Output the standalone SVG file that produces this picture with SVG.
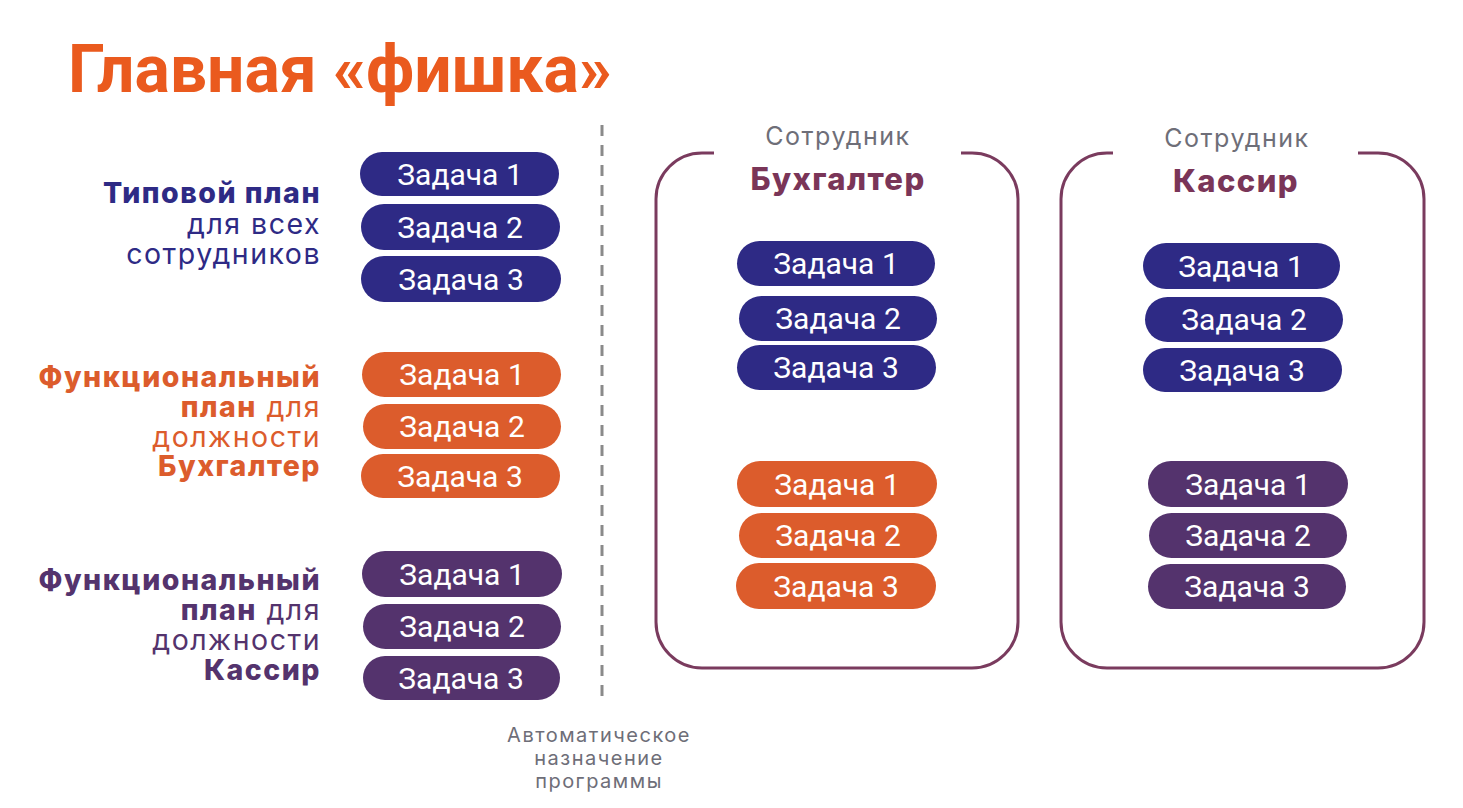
<svg xmlns="http://www.w3.org/2000/svg" width="1463" height="808" viewBox="0 0 1463 808">
<style>
.pill-t{font-family:Roboto,"Liberation Sans",sans-serif;font-size:30px;fill:#fff;text-anchor:middle;dominant-baseline:central}
.blue{fill:#2E2A85}.orange{fill:#DC5C2C}.purple{fill:#54336D}
.lbl{font-family:Inter,"Liberation Sans",sans-serif;font-size:28.5px;letter-spacing:1.5px;text-anchor:end}
.b{font-weight:800}
.box{fill:none;stroke:#7A3B5E;stroke-width:3}
.emp{font-family:Inter,"Liberation Sans",sans-serif;font-size:25px;letter-spacing:1.5px;fill:#6E6E78;text-anchor:middle}
.role{font-family:Inter,"Liberation Sans",sans-serif;font-size:31px;letter-spacing:1.4px;font-weight:800;fill:#7A3558;text-anchor:middle}
.note{font-family:Inter,"Liberation Sans",sans-serif;font-size:20px;letter-spacing:1.5px;fill:#6E6E78;text-anchor:middle}
</style>
<rect width="1463" height="808" fill="#fff"/>
<text id="title" x="68" y="92" font-family="Roboto,'Liberation Sans',sans-serif" font-size="66" font-weight="bold" fill="#EA5A1E">Главная «фишка»</text>

<g id="label-typical">
<text class="lbl b" x="321" y="203" fill="#2E2A85">Типовой план</text>
<text class="lbl" x="321" y="234" fill="#2E2A85">для всех</text>
<text class="lbl" x="321" y="264" fill="#2E2A85">сотрудников</text>
</g>
<g id="label-accountant">
<text class="lbl b" x="321" y="387" fill="#DC5C2C">Функциональный</text>
<text class="lbl" x="321" y="417" fill="#DC5C2C"><tspan font-weight="800">план</tspan> для</text>
<text class="lbl" x="321" y="447" fill="#DC5C2C">должности</text>
<text class="lbl b" x="321" y="476" fill="#DC5C2C">Бухгалтер</text>
</g>
<g id="label-cashier">
<text class="lbl b" x="321" y="590" fill="#54336D">Функциональный</text>
<text class="lbl" x="321" y="620" fill="#54336D"><tspan font-weight="800">план</tspan> для</text>
<text class="lbl" x="321" y="650" fill="#54336D">должности</text>
<text class="lbl b" x="321" y="680" fill="#54336D">Кассир</text>
</g>

<g id="left-typical">
<rect class="blue" x="360" y="152" width="199" height="44" rx="22"/><text class="pill-t" x="460" y="174">Задача 1</text>
<rect class="blue" x="361" y="204" width="199" height="46" rx="23"/><text class="pill-t" x="460" y="227">Задача 2</text>
<rect class="blue" x="361" y="256" width="200" height="46" rx="23"/><text class="pill-t" x="461" y="279">Задача 3</text>
</g>
<g id="left-accountant">
<rect class="orange" x="362" y="352" width="199" height="45" rx="22.5"/><text class="pill-t" x="462" y="374">Задача 1</text>
<rect class="orange" x="363" y="404" width="198" height="45" rx="22.5"/><text class="pill-t" x="462" y="426">Задача 2</text>
<rect class="orange" x="361" y="454" width="199" height="44" rx="22"/><text class="pill-t" x="460" y="476">Задача 3</text>
</g>
<g id="left-cashier">
<rect class="purple" x="362" y="551" width="200" height="46" rx="23"/><text class="pill-t" x="462" y="574">Задача 1</text>
<rect class="purple" x="363" y="604" width="198" height="45" rx="22.5"/><text class="pill-t" x="462" y="626">Задача 2</text>
<rect class="purple" x="363" y="656" width="197" height="44" rx="22"/><text class="pill-t" x="461" y="678">Задача 3</text>
</g>

<g id="connectors">
<line x1="602" y1="125" x2="602" y2="705" stroke="#8A8A8A" stroke-width="3" stroke-dasharray="11 9"/>
</g>
<g id="note">
<text class="note" x="599" y="742">Автоматическое</text>
<text class="note" x="599" y="765">назначение</text>
<text class="note" x="599" y="788">программы</text>
</g>

<g id="employee-accountant">
<path class="box" d="M714 153 H702 A46 46 0 0 0 656 199 V622 A46 46 0 0 0 702 668 H972 A46 46 0 0 0 1018 622 V199 A46 46 0 0 0 972 153 H961"/>
<text class="emp" x="838" y="145">Сотрудник</text>
<text class="role" x="838" y="190">Бухгалтер</text>
<rect class="blue" x="737" y="241" width="198" height="45" rx="22.5"/><text class="pill-t" x="836" y="263">Задача 1</text>
<rect class="blue" x="739" y="296" width="198" height="45" rx="22.5"/><text class="pill-t" x="838" y="318">Задача 2</text>
<rect class="blue" x="737" y="345" width="199" height="45" rx="22.5"/><text class="pill-t" x="836" y="367">Задача 3</text>
<rect class="orange" x="737" y="461" width="200" height="46" rx="23"/><text class="pill-t" x="837" y="484">Задача 1</text>
<rect class="orange" x="739" y="513" width="198" height="45" rx="22.5"/><text class="pill-t" x="838" y="535">Задача 2</text>
<rect class="orange" x="736" y="563" width="200" height="46" rx="23"/><text class="pill-t" x="836" y="586">Задача 3</text>
</g>

<g id="employee-cashier">
<path class="box" d="M1113 153 H1107 A46 46 0 0 0 1061 199 V622 A46 46 0 0 0 1107 668 H1378 A46 46 0 0 0 1424 622 V199 A46 46 0 0 0 1378 153 H1358"/>
<text class="emp" x="1237" y="147">Сотрудник</text>
<text class="role" x="1236" y="192">Кассир</text>
<rect class="blue" x="1143" y="243" width="197" height="46" rx="23"/><text class="pill-t" x="1241" y="266">Задача 1</text>
<rect class="blue" x="1145" y="297" width="198" height="45" rx="22.5"/><text class="pill-t" x="1244" y="319">Задача 2</text>
<rect class="blue" x="1143" y="348" width="199" height="44" rx="22"/><text class="pill-t" x="1242" y="370">Задача 3</text>
<rect class="purple" x="1148" y="461" width="200" height="46" rx="23"/><text class="pill-t" x="1248" y="484">Задача 1</text>
<rect class="purple" x="1149" y="513" width="198" height="45" rx="22.5"/><text class="pill-t" x="1248" y="535">Задача 2</text>
<rect class="purple" x="1148" y="564" width="198" height="45" rx="22.5"/><text class="pill-t" x="1247" y="586">Задача 3</text>
</g>
</svg>
